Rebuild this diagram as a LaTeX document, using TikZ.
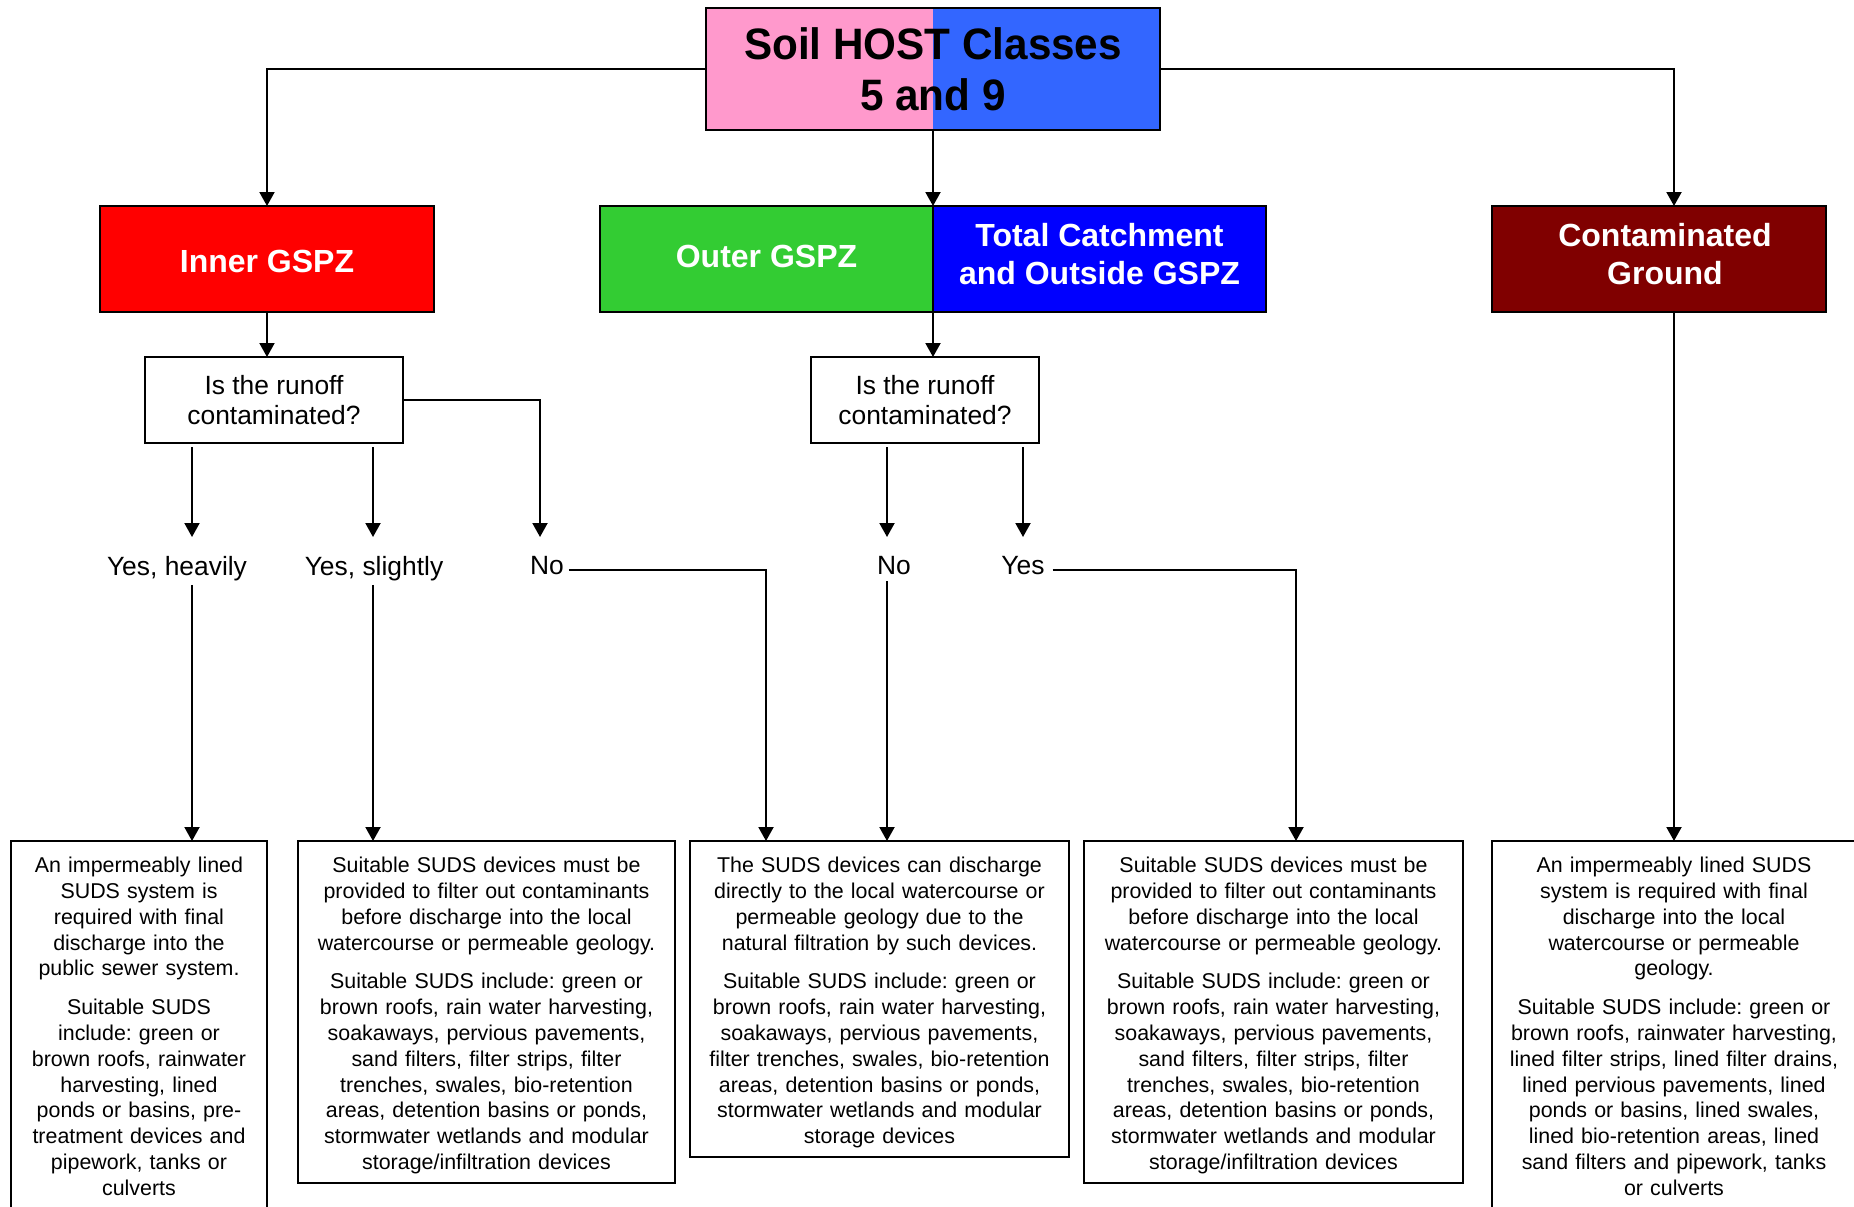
\documentclass[tikz,border=0pt]{standalone}
\usepackage{fontspec}
\setmainfont{Liberation Sans}
\newfontfamily\titlefont[FakeStretch=0.96]{Liberation Sans}
\usetikzlibrary{arrows.meta,calc}
\definecolor{titlepink}{HTML}{FF99CC}
\definecolor{titleblue}{HTML}{3366FF}
\definecolor{innerred}{HTML}{FF0000}
\definecolor{outergreen}{HTML}{33CC33}
\definecolor{totalblue}{HTML}{0000FF}
\definecolor{contamred}{HTML}{800000}
\newcommand{\topgap}{\rule{0pt}{11.4pt}}
\newcommand{\botgap}{\rule[-12pt]{0pt}{0pt}}
\frenchspacing
\begin{document}
\begin{tikzpicture}[x=0.5pt,y=-0.5pt,
  every node/.style={inner sep=0pt, outer sep=0pt},
  conn/.style={line width=1pt, -{Triangle[width=7.5pt,length=7pt]}},
  zonebox/.style={draw, line width=1pt, minimum height=53pt},
  zonetext/.style={text=white, font=\fontsize{16}{18.9}\selectfont\bfseries, align=center},
  qbox/.style={draw, fill=white, line width=1pt, minimum height=43pt,
    font=\fontsize{13.2}{15.4}\selectfont, align=center},
  answer/.style={font=\fontsize{13.2}{15.4}\selectfont},
  infobox/.style={draw, line width=1pt, anchor=north, align=center,
    inner ysep=4.4pt, font=\fontsize{10.7}{12.9}\selectfont\frenchspacing},
]
\useasboundingbox (0,0) rectangle (1854,1206);

% title
\node[draw, line width=1pt, minimum width=227pt, minimum height=61pt, align=center,
  font=\titlefont\bfseries\fontsize{22}{25.4}\selectfont,
  path picture={
    \fill[titlepink] (path picture bounding box.south west) rectangle (path picture bounding box.north);
    \fill[titleblue] (path picture bounding box.north) rectangle (path picture bounding box.south east);
  }] (top) at (933,69) {Soil HOST Classes\\5 and 9};

% zones
\node[zonebox, fill=innerred, minimum width=167pt] (inner) at (267,259) {};
\node[zonebox, fill=outergreen, minimum width=166.5pt] (outer) at (766.5,259) {};
\node[zonebox, fill=totalblue, minimum width=166.5pt] (total) at (1099.5,259) {};
\node[zonebox, fill=contamred, minimum width=167pt] (contam) at (1659,259) {};
\node[zonetext] (innert) at ([yshift=-1.2pt]inner.center) {Inner GSPZ};
\node[zonetext] (outert) at ([yshift=1.2pt]outer.center) {Outer GSPZ};
\node[zonetext] (totalt) at ([yshift=2.4pt]total.center) {Total Catchment\\and Outside GSPZ};
\node[zonetext] (contamt) at ([xshift=3pt,yshift=2.4pt]contam.center) {Contaminated\\Ground};

% questions
\node[qbox, minimum width=129pt] (q1) at (274,400) {Is the runoff\\contaminated?};
\node[qbox, minimum width=114pt] (q2) at (925,400) {Is the runoff\\contaminated?};

% answers
\node[answer] (heavy) at (177,568.5) {Yes, heavily};
\node[answer] (slight) at (374,568.5) {Yes, slightly};
\node[answer] (noA) at (547,566) {No};
\node[answer] (noB) at (894,566) {No};
\node[answer] (yesB) at (1023,566) {Yes};

% outcome boxes
\node[infobox, text width=128pt] (b1) at (139,841) {\topgap An impermeably lined\\SUDS system is\\required with final\\discharge into the\\public sewer system.\\[6.5pt]
Suitable SUDS\\include: green or\\brown roofs, rainwater\\harvesting, lined\\ponds or basins, pre-\\treatment devices and\\pipework, tanks or\\culverts\botgap};
\node[infobox, text width=188.5pt] (b2) at (486.5,841) {\topgap Suitable SUDS devices must be\\provided to filter out contaminants\\before discharge into the local\\watercourse or permeable geology.\\[6.5pt]
Suitable SUDS include: green or\\brown roofs, rain water harvesting,\\soakaways, pervious pavements,\\sand filters, filter strips, filter\\trenches, swales, bio-retention\\areas, detention basins or ponds,\\stormwater wetlands and modular\\storage/infiltration devices};
\node[infobox, text width=189.5pt] (b3) at (879.5,841) {\topgap The SUDS devices can discharge\\directly to the local watercourse or\\permeable geology due to the\\natural filtration by such devices.\\[6.5pt]
Suitable SUDS include: green or\\brown roofs, rain water harvesting,\\soakaways, pervious pavements,\\filter trenches, swales, bio-retention\\areas, detention basins or ponds,\\stormwater wetlands and modular\\storage devices};
\node[infobox, text width=189.5pt] (b4) at (1273.5,841) {\topgap Suitable SUDS devices must be\\provided to filter out contaminants\\before discharge into the local\\watercourse or permeable geology.\\[6.5pt]
Suitable SUDS include: green or\\brown roofs, rain water harvesting,\\soakaways, pervious pavements,\\sand filters, filter strips, filter\\trenches, swales, bio-retention\\areas, detention basins or ponds,\\stormwater wetlands and modular\\storage/infiltration devices};
\node[infobox, text width=182pt] (b5) at (1674,841) {\topgap An impermeably lined SUDS\\system is required with final\\discharge into the local\\watercourse or permeable\\geology.\\[6.5pt]
Suitable SUDS include: green or\\brown roofs, rainwater harvesting,\\lined filter strips, lined filter drains,\\lined pervious pavements, lined\\ponds or basins, lined swales,\\lined bio-retention areas, lined\\sand filters and pipework, tanks\\or culverts\botgap};

% helper coordinates
\coordinate (cx) at (1674,312);
\coordinate (hx) at (192,537);
\coordinate (sx) at (373,537);
\coordinate (nx) at (540,537);
\coordinate (mx) at (887,537);
\coordinate (yx) at (1023,537);
\coordinate (n3) at (766,841);
\coordinate (n4) at (1296,841);

% connectors top
\draw[conn] (top.west) -| (inner.north);
\draw[conn] (top.east) -| (cx |- contam.north);
\draw[conn] (top.south) -- (outer.north east);
\draw[conn] (inner.south) -- (inner.south |- q1.north);
\draw[conn] (outer.south east) -- (outer.south east |- q2.north);

% question to answers
\draw[conn] ([yshift=-2pt]q1.south -| hx) -- (hx);
\draw[conn] ([yshift=-2pt]q1.south -| sx) -- (sx);
\draw[conn] (q1.east) -| (nx);
\draw[conn] ([yshift=-2pt]q2.south -| mx) -- (mx);
\draw[conn] ([yshift=-2pt]q2.south -| yx) -- (yx);

% answers to outcomes
\draw[conn] ([yshift=-2pt]heavy.south -| hx) -- (b1.north -| hx);
\draw[conn] ([yshift=-2pt]slight.south -| sx) -- (b2.north -| sx);
\draw[conn] ([xshift=2.5pt,yshift=-2pt]noA.east) -| (n3);
\draw[conn] ([yshift=-3pt]noB.south -| mx) -- (b3.north -| mx);
\draw[conn] ([xshift=4pt,yshift=-2pt]yesB.east) -| (n4);
\draw[conn] (cx) -- (b5.north -| cx);
\end{tikzpicture}
\end{document}
